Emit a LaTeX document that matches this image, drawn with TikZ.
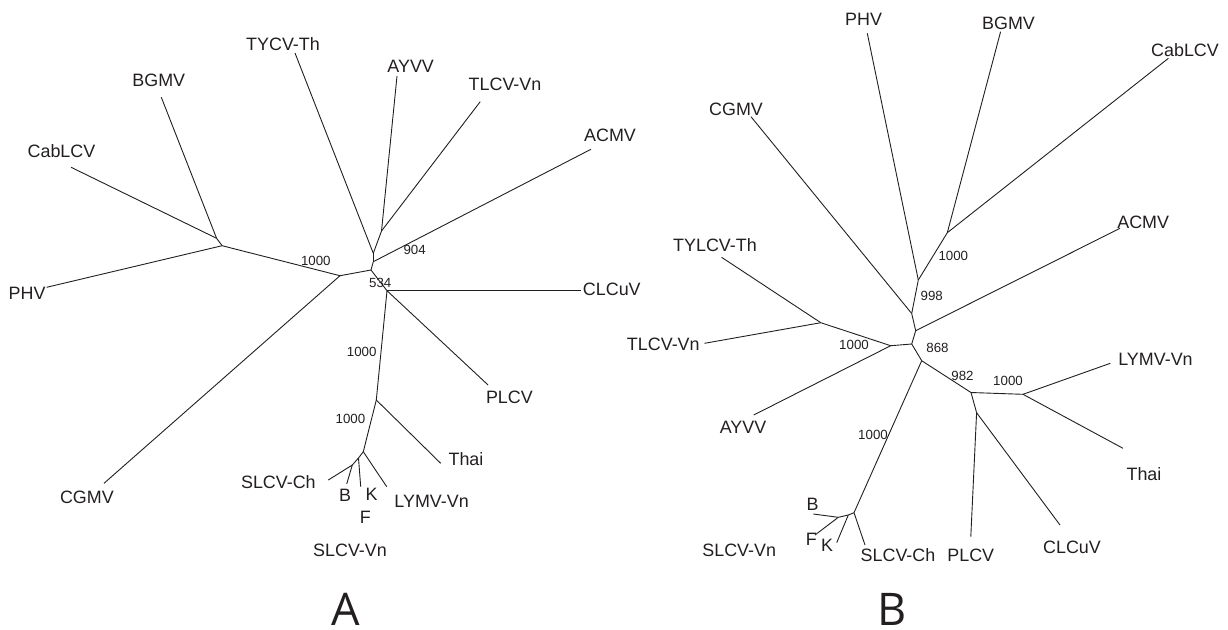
\documentclass[tikz,border=0pt]{standalone}
\usepackage{fontspec}
\setmainfont{Liberation Sans}
\newfontfamily\panelfont{Open Sans}
\definecolor{ink}{HTML}{231F20}
\begin{document}
\begin{tikzpicture}[x=0.5pt,y=-0.5pt,
  branch/.style={draw=ink,line width=0.45pt},
  leaf/.style={inner sep=0pt,anchor=base,text=ink,font=\fontsize{8.95}{10}\selectfont},
  boot/.style={inner sep=0pt,anchor=center,text=ink,font=\fontsize{6.65}{8}\selectfont},
  panel/.style={inner sep=0pt,anchor=base,text=ink,font=\panelfont\fontsize{22.5}{24}\selectfont}]
\useasboundingbox (0,0) rectangle (1228,629);
% ================= Tree A =================
% tips
\coordinate (aTY) at (295,53);
\coordinate (aAY) at (397,76);
\coordinate (aTL) at (480.2,101.7);
\coordinate (aAC) at (590.9,149.3);
\coordinate (aCab) at (71.1,167.3);
\coordinate (aBG) at (161.3,97.3);
\coordinate (aPH) at (46.6,287.3);
\coordinate (aCG) at (104,483.3);
\coordinate (aCL) at (581,290.7);
\coordinate (aPL) at (488.1,385);
\coordinate (aTh) at (440.7,463.3);
\coordinate (aLY) at (386.7,486.7);
\coordinate (aFK) at (360.7,486.7);
\coordinate (aB) at (346.7,484);
\coordinate (aSC) at (328.3,480);
% internal
\coordinate (aJ1) at (216.6,238.3);
\coordinate (aJ2) at (222.1,245.7);
\coordinate (aJ3) at (340,275.7);
\coordinate (aJ4) at (371,270);
\coordinate (aJac) at (373.3,261.7);
\coordinate (aJ5) at (373.3,253.3);
\coordinate (aJ6) at (381.5,231);
\coordinate (aJ7) at (387,290.7);
\coordinate (aJ8) at (376.3,400);
\coordinate (aJ9) at (363.3,451.7);
\coordinate (aJm) at (358.5,458);
\coordinate (aJ10) at (352.3,465);
% branches
\draw[branch] (aCab) -- (aJ1);
\draw[branch] (aBG) -- (aJ1);
\draw[branch] (aJ1) -- (aJ2);
\draw[branch] (aPH) -- (aJ2);
\draw[branch] (aJ2) -- (aJ3);
\draw[branch] (aCG) -- (aJ3);
\draw[branch] (aJ3) -- (aJ4);
\draw[branch] (aJ4) -- (aJac);
\draw[branch] (aJac) -- (aAC);
\draw[branch] (aJac) -- (aJ5);
\draw[branch] (aJ5) -- (aTY);
\draw[branch] (aJ5) -- (aJ6);
\draw[branch] (aJ6) -- (aAY);
\draw[branch] (aJ6) -- (aTL);
\draw[branch] (aJ4) -- (aJ7);
\draw[branch] (aJ7) -- (aCL);
\draw[branch] (aJ7) -- (aPL);
\draw[branch] (aJ7) -- (aJ8);
\draw[branch] (aJ8) -- (aTh);
\draw[branch] (aJ8) -- (aJ9);
\draw[branch] (aJ9) -- (aLY);
\draw[branch] (aJ9) -- (aJm);
\draw[branch] (aJm) -- (aFK);
\draw[branch] (aJm) -- (aJ10);
\draw[branch] (aJ10) -- (aB);
\draw[branch] (aJ10) -- (aSC);
% labels
\node[leaf] (laTY) at (283,50) {TYCV-Th};
\node[leaf] (laAY) at (410.7,72.7) {AYVV};
\node[leaf] (laTL) at (505,90.7) {TLCV-Vn};
\node[leaf] (laAC) at (610,141.7) {ACMV};
\node[leaf] (laCab) at (61.5,157.3) {CabLCV};
\node[leaf] (laBG) at (158.8,86) {BGMV};
\node[leaf] (laPH) at (27.1,299.3) {PHV};
\node[leaf] (laCG) at (86.9,503.3) {CGMV};
\node[leaf] (laCL) at (611.8,295) {CLCuV};
\node[leaf] (laPL) at (509.4,403.3) {PLCV};
\node[leaf] (laTh) at (466,465.7) {Thai};
\node[leaf] (laLY) at (431.6,507.3) {LYMV-Vn};
\node[leaf] (laSC) at (278.4,488.3) {SLCV-Ch};
\node[leaf] (laB) at (345,501.7) {B};
\node[leaf] (laK) at (371.7,500) {K};
\node[leaf] (laF) at (365.3,523.3) {F};
\node[leaf] (laSV) at (350,556) {SLCV-Vn};
\node[boot] (baA1) at (315.8,261.3) {1000};
\node[boot] (baA2) at (414.6,250) {904};
\node[boot] (baA3) at (380.3,283.3) {534};
\node[boot] (baA4) at (361.7,352) {1000};
\node[boot] (baA5) at (350.4,418.7) {1000};
\node[panel] (pA) at (345.8,625.5) {A};
% ================= Tree B =================
% tips
\coordinate (bPH) at (867.3,33.3);
\coordinate (bBG) at (1000.6,31.7);
\coordinate (bCab) at (1168.4,58.3);
\coordinate (bCG) at (751,116.7);
\coordinate (bAC) at (1120,228.3);
\coordinate (bTY) at (721.6,257.3);
\coordinate (bTL) at (704.5,343.3);
\coordinate (bAY) at (753.7,415);
\coordinate (bLY) at (1110.3,363.3);
\coordinate (bTh) at (1123,448.3);
\coordinate (bCL) at (1060,525);
\coordinate (bPL) at (970.8,536.7);
\coordinate (bSC) at (865,545);
\coordinate (bK) at (836.7,542.7);
\coordinate (bF) at (815,535);
\coordinate (bB) at (813.3,514);
% internal
\coordinate (bJB1) at (947.3,232.7);
\coordinate (bJB2) at (918.3,280);
\coordinate (bJC) at (911.7,313.5);
\coordinate (bJA) at (915.7,330.7);
\coordinate (bJN) at (911.7,344);
\coordinate (bJM) at (890.7,345.7);
\coordinate (bJT) at (820.8,322.7);
\coordinate (bJS) at (921.7,360.7);
\coordinate (bJP) at (971,392.5);
\coordinate (bJL) at (1023,394.3);
\coordinate (bJQ) at (976.6,412.7);
\coordinate (bJX) at (854,512.7);
\coordinate (bJY) at (848.3,515);
\coordinate (bJZ) at (838.3,517.3);
% branches
\draw[branch] (bPH) -- (bJB2);
\draw[branch] (bBG) -- (bJB1);
\draw[branch] (bCab) -- (bJB1);
\draw[branch] (bJB1) -- (bJB2);
\draw[branch] (bJB2) -- (bJC);
\draw[branch] (bCG) -- (bJC);
\draw[branch] (bJC) -- (bJA);
\draw[branch] (bAC) -- (bJA);
\draw[branch] (bJA) -- (bJN);
\draw[branch] (bJN) -- (bJM);
\draw[branch] (bJM) -- (bJT);
\draw[branch] (bJT) -- (bTY);
\draw[branch] (bJT) -- (bTL);
\draw[branch] (bJM) -- (bAY);
\draw[branch] (bJN) -- (bJS);
\draw[branch] (bJS) -- (bJP);
\draw[branch] (bJP) -- (bJL);
\draw[branch] (bJL) -- (bLY);
\draw[branch] (bJL) -- (bTh);
\draw[branch] (bJP) -- (bJQ);
\draw[branch] (bJQ) -- (bPL);
\draw[branch] (bJQ) -- (bCL);
\draw[branch] (bJS) -- (bJX);
\draw[branch] (bJX) -- (bSC);
\draw[branch] (bJX) -- (bJY);
\draw[branch] (bJY) -- (bK);
\draw[branch] (bJY) -- (bJZ);
\draw[branch] (bJZ) -- (bB);
\draw[branch] (bJZ) -- (bF);
% labels
\node[leaf] (lbPH) at (863.6,25) {PHV};
\node[leaf] (lbBG) at (1008.5,29.3) {BGMV};
\node[leaf] (lbCab) at (1185,56.7) {CabLCV};
\node[leaf] (lbCG) at (736,115) {CGMV};
\node[leaf] (lbAC) at (1143.2,228.3) {ACMV};
\node[leaf] (lbTY) at (715,251.7) {TYLCV-Th};
\node[leaf] (lbTL) at (663.3,350) {TLCV-Vn};
\node[leaf] (lbAY) at (743,433.3) {AYVV};
\node[leaf] (lbLY) at (1155.5,365) {LYMV-Vn};
\node[leaf] (lbTh) at (1144,480) {Thai};
\node[leaf] (lbCL) at (1072,553.3) {CLCuV};
\node[leaf] (lbPL) at (970.8,561.7) {PLCV};
\node[leaf] (lbSC) at (898,561.7) {SLCV-Ch};
\node[leaf] (lbSV) at (739.2,556.7) {SLCV-Vn};
\node[leaf] (lbB) at (812.5,510) {B};
\node[leaf] (lbF) at (811.3,545) {F};
\node[leaf] (lbK) at (827.2,551.7) {K};
\node[boot] (bbB1) at (953.3,255.8) {1000};
\node[boot] (bbB2) at (931.7,296.3) {998};
\node[boot] (bbB3) at (937.5,348.3) {868};
\node[boot] (bbB4) at (854,344.7) {1000};
\node[boot] (bbB5) at (962.5,375.8) {982};
\node[boot] (bbB6) at (1008,381) {1000};
\node[boot] (bbB7) at (873,435) {1000};
\node[panel] (pB) at (891.7,625.5) {B};
\end{tikzpicture}
\end{document}
